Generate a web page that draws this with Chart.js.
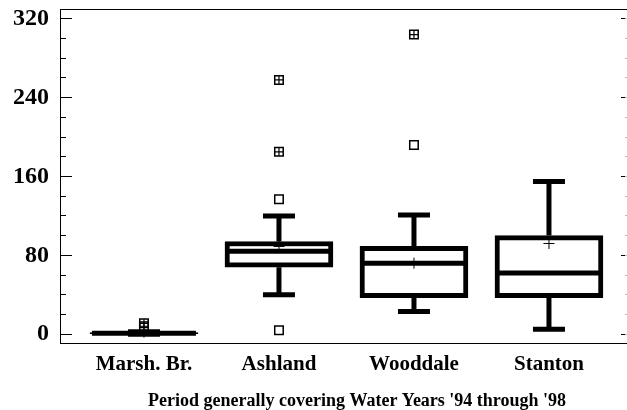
<!DOCTYPE html>
<html>
<head>
<meta charset="utf-8">
<script src="https://cdn.jsdelivr.net/npm/chart.js@4/dist/chart.umd.min.js"></script>
<style>
  html, body { margin: 0; padding: 0; background: #fff; }
</style>
</head>
<body>
<canvas id="boxChart" width="627" height="410"></canvas>
<script>
// box plot values
const categories = ['Marsh. Br.', 'Ashland', 'Wooddale', 'Stanton'];
const whiskerLow = [0, 40, 23, 5];
const quartile1 = [0.4, 68, 37, 37];
const medians = [1, 84, 72, 62];
const quartile3 = [1.6, 94, 89, 100];
const whiskerHigh = [2.5, 120, 121, 155];
const means = [2, 89, 72, 92];
const outsideValues = [[], [137, 4], [192], []];      // plain squares
const farOutValues = [[11, 8], [185, 258], [304], []]; // squares with a cross
const yTickLabels = [0, 80, 160, 240, 320];
const xTitle = "Period generally covering Water Years '94 through '98";

const X_MIN = 0.378, X_MAX = 4.578;
const Y_MIN = -9, Y_MAX = 330;

Chart.defaults.font.family = "'Liberation Serif', 'Times New Roman', serif";
Chart.defaults.color = '#000';

const pos = i => i + 1;

// whisker stems, split with gaps
const stems = [];
categories.forEach((c, i) => {
  stems.push({x: pos(i), y: quartile3[i]}, {x: pos(i), y: whiskerHigh[i]}, {x: pos(i), y: null});
  stems.push({x: pos(i), y: quartile1[i]}, {x: pos(i), y: whiskerLow[i]}, {x: pos(i), y: null});
});
const caps = [];
categories.forEach((c, i) => {
  caps.push({x: pos(i), y: whiskerLow[i]}, {x: pos(i), y: whiskerHigh[i]});
});
const outPts = [];
outsideValues.forEach((arr, i) => arr.forEach(v => outPts.push({x: pos(i), y: v})));
const farPts = [];
farOutValues.forEach((arr, i) => arr.forEach(v => farPts.push({x: pos(i), y: v})));

const zeroPad = s => { s.paddingTop = 0; s.paddingBottom = 0; };

const config = {
  type: 'bar',
  data: {
    datasets: [
      {
        label: 'box',
        data: categories.map((c, i) => ({x: pos(i), y: [quartile1[i], quartile3[i]]})),
        backgroundColor: '#fff',
        borderColor: '#000',
        borderWidth: 5,
        borderSkipped: false,
        barThickness: 108,
        order: 6
      },
      {
        type: 'line',
        label: 'stems',
        data: stems,
        borderColor: '#000',
        borderWidth: 5,
        pointRadius: 0,
        spanGaps: false,
        order: 5
      },
      {
        type: 'line',
        label: 'caps',
        data: caps,
        showLine: false,
        pointStyle: 'line',
        pointRadius: 16,
        pointBorderWidth: 5,
        pointBorderColor: '#000',
        order: 4
      },
      {
        type: 'line',
        label: 'median',
        data: categories.map((c, i) => ({x: pos(i), y: medians[i]})),
        showLine: false,
        pointStyle: 'line',
        pointRadius: 52,
        pointBorderWidth: 5,
        pointBorderColor: '#000',
        order: 3
      },
      {
        type: 'line',
        label: 'mean',
        data: categories.map((c, i) => ({x: pos(i), y: means[i]})),
        showLine: false,
        pointStyle: 'cross',
        pointRadius: 5.5,
        pointBorderWidth: 1,
        pointBorderColor: '#000',
        order: 2
      },
      {
        type: 'line',
        label: 'outside',
        data: outPts.concat(farPts),
        showLine: false,
        pointStyle: 'rect',
        pointRadius: 6,
        pointBorderWidth: 1.5,
        pointBorderColor: '#000',
        pointBackgroundColor: 'rgba(255,255,255,0)',
        order: 1
      },
      {
        type: 'line',
        label: 'far out',
        data: farPts,
        showLine: false,
        pointStyle: 'cross',
        pointRadius: 4.2,
        pointBorderWidth: 1.2,
        pointBorderColor: '#000',
        order: 0
      }
    ]
  },
  options: {
    responsive: false,
    animation: false,
    events: [],
    layout: { padding: 0, autoPadding: false },
    plugins: { legend: { display: false }, tooltip: { enabled: false } },
    scales: {
      x: {
        type: 'linear',
        position: 'bottom',
        min: X_MIN,
        max: X_MAX,
        offset: false,
        afterBuildTicks: s => { s.ticks = categories.map((c, i) => ({value: pos(i)})); },
        ticks: {
          autoSkip: false,
          maxRotation: 0,
          padding: 9,
          font: { size: 21, weight: 'bold' },
          callback: v => categories[v - 1] || ''
        },
        grid: { drawOnChartArea: false, drawTicks: false },
        border: { display: true, color: '#000', width: 1 },
        title: {
          display: true,
          // en spaces in front nudge the centred title to the right, as in the original
          text: '\u2002\u2002\u2002' + xTitle,
          font: { size: 18, weight: 'bold' },
          padding: { top: 0, bottom: -2 }
        },
        afterFit: s => { s.height = 67; s.paddingLeft = 0; s.paddingRight = 0; }
      },
      xTop: {
        type: 'linear',
        axis: 'x',
        position: 'top',
        min: X_MIN,
        max: X_MAX,
        offset: false,
        ticks: { display: false },
        grid: { drawOnChartArea: false, drawTicks: false },
        border: { display: true, color: '#000', width: 1 },
        afterFit: s => { s.height = 9; s.paddingLeft = 0; s.paddingRight = 0; }
      },
      y: {
        type: 'linear',
        position: 'left',
        min: Y_MIN,
        max: Y_MAX,
        afterBuildTicks: s => { s.ticks = yTickLabels.map(v => ({value: v})); },
        ticks: {
          padding: 23,
          font: { size: 24, weight: 'bold' }
        },
        grid: { drawOnChartArea: false, tickLength: -12, tickColor: '#000', tickWidth: 1 },
        border: { display: true, color: '#000', width: 1 },
        afterFit: s => { s.width = 60; zeroPad(s); }
      },
      yMinor: {
        type: 'linear',
        axis: 'y',
        position: { x: X_MIN },
        min: Y_MIN,
        max: Y_MAX,
        ticks: { display: false, stepSize: 20, includeBounds: false },
        grid: { drawOnChartArea: false, tickLength: -6, tickColor: '#000', tickWidth: 1 },
        border: { display: false },
        afterFit: s => { s.width = 0; zeroPad(s); }
      },
      yRight: {
        type: 'linear',
        axis: 'y',
        position: { x: X_MAX },
        min: Y_MIN,
        max: Y_MAX,
        afterBuildTicks: s => { s.ticks = yTickLabels.map(v => ({value: v})); },
        ticks: { display: false },
        grid: { drawOnChartArea: false, tickLength: 6, tickColor: '#000', tickWidth: 1 },
        border: { display: false },
        afterFit: s => { s.width = 0; zeroPad(s); }
      },
      yRightMinor: {
        type: 'linear',
        axis: 'y',
        position: { x: X_MAX },
        min: Y_MIN,
        max: Y_MAX,
        ticks: { display: false, stepSize: 20, includeBounds: false },
        grid: { drawOnChartArea: false, tickLength: 2, tickColor: '#bbb', tickWidth: 1 },
        border: { display: false },
        afterFit: s => { s.width = 0; zeroPad(s); }
      }
    }
  }
};

const boxChart = new Chart(document.getElementById('boxChart'), config);
</script>
</body>
</html>
